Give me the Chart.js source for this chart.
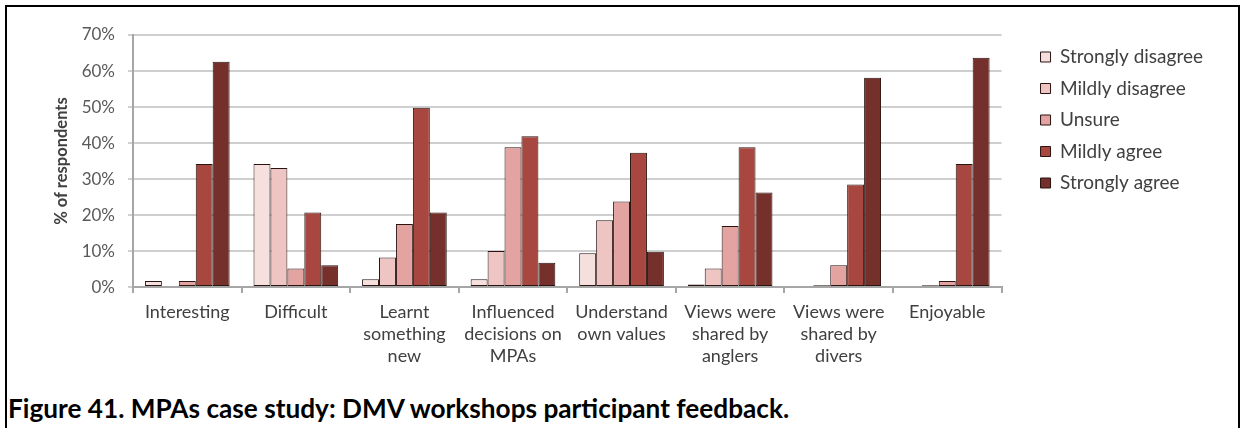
<!DOCTYPE html>
<html>
<head>
<meta charset="utf-8">
<script src="https://cdn.jsdelivr.net/npm/chart.js@4/dist/chart.umd.min.js"></script>
<style>
  html, body { margin: 0; padding: 0; background: #fff; }
  #frame {
    position: absolute; left: 5px; top: 5px; width: 1231px; height: 430px;
    border: 2px solid #000; border-bottom: none;
  }
  #wrap { position: absolute; left: 0; top: 0; width: 1231px; height: 372px; }
  #caption {
    position: absolute; left: 1px; top: 385px; line-height: 30px;
    font: bold 26.2px Lato, sans-serif; color: #000; white-space: nowrap;
  }
</style>
</head>
<body>
<div id="frame">
  <div id="wrap"><canvas id="feedback"></canvas></div>
  <div id="caption">Figure 41. MPAs case study: DMV workshops participant feedback.</div>
</div>
<script>
/* survey categories and response shares (%) */
const categories = [
  'Interesting',
  'Difficult',
  ['Learnt', 'something', 'new'],
  ['Influenced', 'decisions on', 'MPAs'],
  ['Understand', 'own values'],
  ['Views were', 'shared by', 'anglers'],
  ['Views were', 'shared by', 'divers'],
  'Enjoyable'
];
const responses = ['Strongly disagree', 'Mildly disagree', 'Unsure', 'Mildly agree', 'Strongly agree'];

const stronglyDisagree = [1.7, 34.2, 2.2, 2.2, 9.4, 0.7, 0, 0];
const mildlyDisagree   = [0, 33.1, 8.2, 10, 18.6, 5.2, 0.5, 0.5];
const unsure           = [1.7, 5.2, 17.5, 38.8, 23.8, 17, 6.1, 1.7];
const mildlyAgree      = [34.2, 20.7, 49.8, 41.9, 37.3, 38.8, 28.5, 34.2];
const stronglyAgree    = [62.6, 6.1, 20.7, 6.8, 9.8, 26.3, 58.1, 63.7];

const yTicks = [0, 10, 20, 30, 40, 50, 60, 70];

const COLORS = ['#f6e0de', '#eec5c3', '#e2a3a1', '#a8473f', '#76302b'];
const FONT = "Lato, 'Open Sans', sans-serif";

const series = [stronglyDisagree, mildlyDisagree, unsure, mildlyAgree, stronglyAgree];

new Chart(document.getElementById('feedback').getContext('2d'), {
  type: 'bar',
  data: {
    labels: categories,
    datasets: series.map((data, i) => ({
      label: responses[i],
      data,
      backgroundColor: COLORS[i],
      borderColor: '#2a1412',
      borderWidth: 1,
      borderSkipped: false,
      categoryPercentage: 0.78,
      barPercentage: 1
    }))
  },
  options: {
    responsive: true,
    maintainAspectRatio: false,
    animation: false,
    layout: { padding: { top: 28, left: 45, right: 25, bottom: 4 } },
    plugins: {
      tooltip: { enabled: false },
      legend: {
        position: 'right',
        align: 'start',
        labels: {
          color: '#404040',
          font: { family: FONT, size: 19 },
          boxWidth: 10,
          boxHeight: 10,
          padding: 12.5
        }
      }
    },
    scales: {
      x: {
        grid: { display: true, drawOnChartArea: false, offset: true, tickLength: 6, color: '#a6a6a6', lineWidth: 2 },
        border: { color: '#a6a6a6', width: 2 },
        ticks: {
          color: '#404040',
          font: { family: FONT, size: 18, lineHeight: 1.22 },
          maxRotation: 0,
          autoSkip: false,
          padding: 8
        }
      },
      y: {
        min: 0,
        max: 70,
        afterBuildTicks: axis => { axis.ticks = yTicks.map(v => ({ value: v })); },
        afterFit: axis => { axis.width = 81; },
        grid: { color: '#cfcfcf', lineWidth: 2, tickLength: 5 },
        border: { color: '#a6a6a6', width: 2 },
        ticks: {
          color: '#595959',
          font: { family: FONT, size: 17 },
          padding: 13,
          callback: v => v + '%'
        },
        title: {
          display: true,
          text: '% of respondents',
          color: '#404040',
          font: { family: FONT, size: 16.5, weight: 'bold' },
          padding: 0
        }
      },
      // empty spacer between plot and legend
      gap: {
        position: 'right',
        axis: 'y',
        display: true,
        grid: { display: false },
        border: { display: false },
        ticks: { display: false },
        afterFit: axis => { axis.width = 26.5; }
      }
    }
  }
});
</script>
</body>
</html>
